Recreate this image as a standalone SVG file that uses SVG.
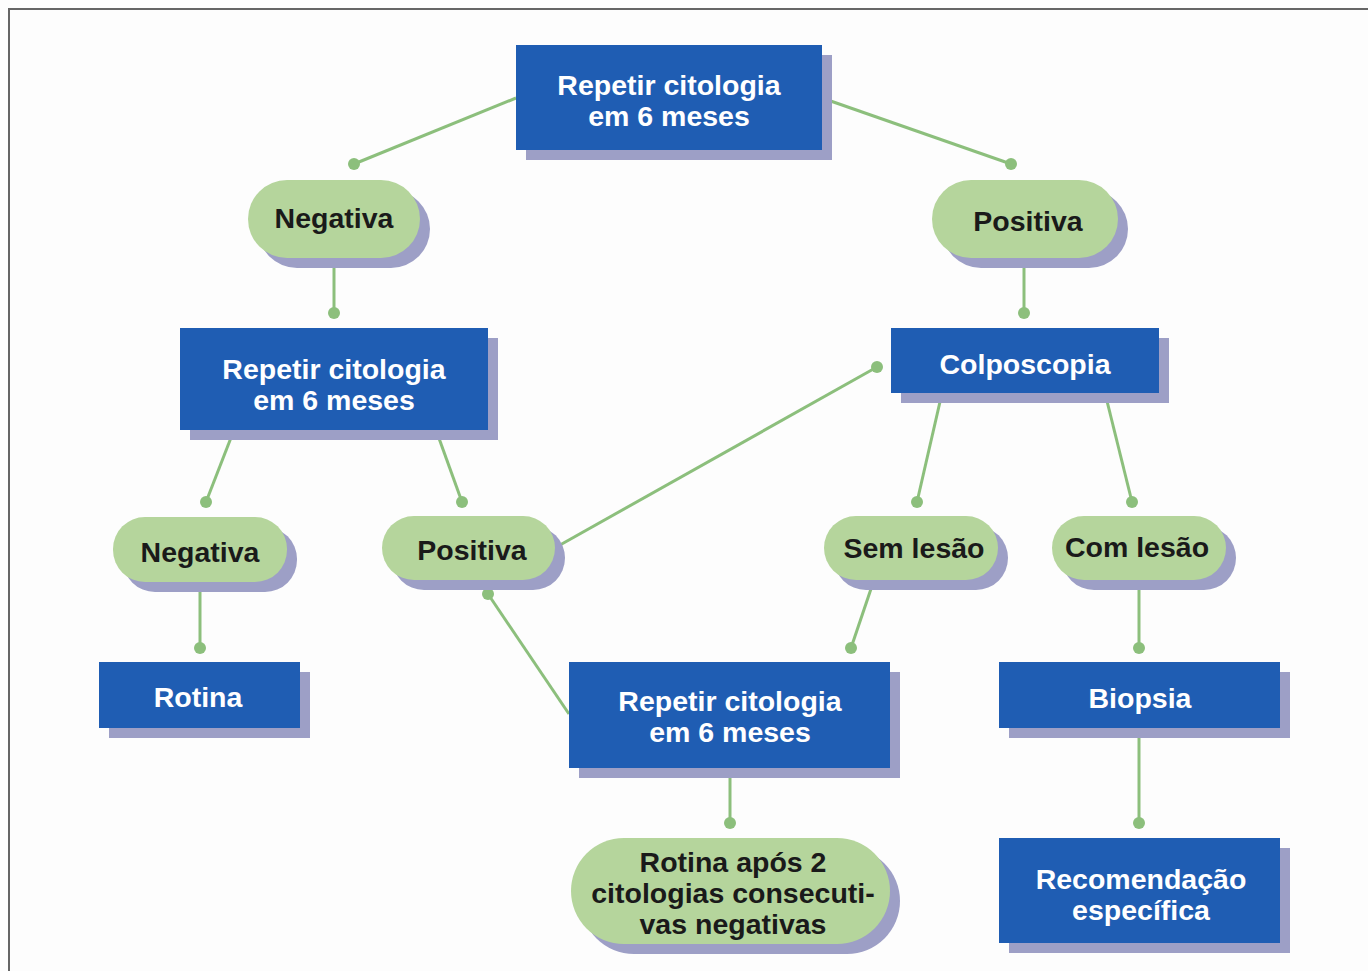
<svg xmlns="http://www.w3.org/2000/svg" width="1368" height="971" viewBox="0 0 1368 971">
<style>
.box{fill:#1f5db3}
.sh{fill:#9d9fc6}
.pill{fill:#b5d59c}
.tw{font-family:"Liberation Sans",Arial,sans-serif;font-weight:bold;font-size:28.5px;fill:#ffffff;text-anchor:middle}
.tb{font-family:"Liberation Sans",Arial,sans-serif;font-weight:bold;font-size:28.5px;fill:#1a1a1a;text-anchor:middle}
.ln{stroke:#8cbf7c;stroke-width:3;fill:none}
.dot{fill:#8cbf7c}
</style>
<rect x="0" y="0" width="1368" height="971" fill="#fdfdfd"/>
<path d="M9,971 V9 H1368" fill="none" stroke="#666" stroke-width="2"/>
<g id="connectors">
<line class="ln" x1="516" y1="98" x2="354" y2="164"/><circle class="dot" cx="354" cy="164" r="6"/>
<line class="ln" x1="822" y1="98" x2="1011" y2="164"/><circle class="dot" cx="1011" cy="164" r="6"/>
<line class="ln" x1="334" y1="258" x2="334" y2="313"/><circle class="dot" cx="334" cy="313" r="6"/>
<line class="ln" x1="1024" y1="258" x2="1024" y2="313"/><circle class="dot" cx="1024" cy="313" r="6"/>
<line class="ln" x1="234" y1="430" x2="206" y2="502"/><circle class="dot" cx="206" cy="502" r="6"/>
<line class="ln" x1="436" y1="430" x2="462" y2="502"/><circle class="dot" cx="462" cy="502" r="6"/>
<line class="ln" x1="560" y1="545" x2="877" y2="367"/><circle class="dot" cx="877" cy="367" r="6"/>
<line class="ln" x1="942" y1="393" x2="917" y2="502"/><circle class="dot" cx="917" cy="502" r="6"/>
<line class="ln" x1="1105" y1="393" x2="1132" y2="502"/><circle class="dot" cx="1132" cy="502" r="6"/>
<line class="ln" x1="200" y1="582" x2="200" y2="648"/><circle class="dot" cx="200" cy="648" r="6"/>
<line class="ln" x1="569" y1="714" x2="488" y2="594"/><circle class="dot" cx="488" cy="594" r="6"/>
<line class="ln" x1="874" y1="580" x2="851" y2="648"/><circle class="dot" cx="851" cy="648" r="6"/>
<line class="ln" x1="1139" y1="580" x2="1139" y2="648"/><circle class="dot" cx="1139" cy="648" r="6"/>
<line class="ln" x1="730" y1="768" x2="730" y2="823"/><circle class="dot" cx="730" cy="823" r="6"/>
<line class="ln" x1="1139" y1="728" x2="1139" y2="823"/><circle class="dot" cx="1139" cy="823" r="6"/>
</g>
<g id="n1"><rect class="sh" x="526" y="55" width="306" height="105"/><rect class="box" x="516" y="45" width="306" height="105"/><text class="tw" x="669" y="95">Repetir citologia</text><text class="tw" x="669" y="126">em 6 meses</text></g>
<g id="n2"><rect class="sh" x="258" y="190" width="172" height="78" rx="39"/><rect class="pill" x="248" y="180" width="172" height="78" rx="39"/><text class="tb" x="334" y="228">Negativa</text></g>
<g id="n3"><rect class="sh" x="942" y="190" width="186" height="78" rx="39"/><rect class="pill" x="932" y="180" width="186" height="78" rx="39"/><text class="tb" x="1028" y="231">Positiva</text></g>
<g id="n4"><rect class="sh" x="190" y="338" width="308" height="102"/><rect class="box" x="180" y="328" width="308" height="102"/><text class="tw" x="334" y="379">Repetir citologia</text><text class="tw" x="334" y="410">em 6 meses</text></g>
<g id="n5"><rect class="sh" x="901" y="338" width="268" height="65"/><rect class="box" x="891" y="328" width="268" height="65"/><text class="tw" x="1025" y="374">Colposcopia</text></g>
<g id="n6"><rect class="sh" x="123" y="527" width="174" height="65" rx="32"/><rect class="pill" x="113" y="517" width="174" height="65" rx="32"/><text class="tb" x="200" y="562">Negativa</text></g>
<g id="n7"><rect class="sh" x="392" y="526" width="173" height="64" rx="32"/><rect class="pill" x="382" y="516" width="173" height="64" rx="32"/><text class="tb" x="472" y="560">Positiva</text></g>
<g id="n8"><rect class="sh" x="834" y="526" width="174" height="64" rx="32"/><rect class="pill" x="824" y="516" width="174" height="64" rx="32"/><text class="tb" x="914" y="558">Sem lesão</text></g>
<g id="n9"><rect class="sh" x="1062" y="526" width="174" height="64" rx="32"/><rect class="pill" x="1052" y="516" width="174" height="64" rx="32"/><text class="tb" x="1137" y="557">Com lesão</text></g>
<g id="n10"><rect class="sh" x="109" y="672" width="201" height="66"/><rect class="box" x="99" y="662" width="201" height="66"/><text class="tw" x="198" y="707">Rotina</text></g>
<g id="n11"><rect class="sh" x="579" y="672" width="321" height="106"/><rect class="box" x="569" y="662" width="321" height="106"/><text class="tw" x="730" y="711">Repetir citologia</text><text class="tw" x="730" y="742">em 6 meses</text></g>
<g id="n12"><rect class="sh" x="1009" y="672" width="281" height="66"/><rect class="box" x="999" y="662" width="281" height="66"/><text class="tw" x="1140" y="708">Biopsia</text></g>
<g id="n13"><rect class="sh" x="581" y="848" width="319" height="106" rx="53"/><rect class="pill" x="571" y="838" width="319" height="106" rx="53"/><text class="tb" x="733" y="872">Rotina após 2</text><text class="tb" x="733" y="903">citologias consecuti-</text><text class="tb" x="733" y="934">vas negativas</text></g>
<g id="n14"><rect class="sh" x="1009" y="848" width="281" height="105"/><rect class="box" x="999" y="838" width="281" height="105"/><text class="tw" x="1141" y="889">Recomendação</text><text class="tw" x="1141" y="920">específica</text></g>
</svg>
